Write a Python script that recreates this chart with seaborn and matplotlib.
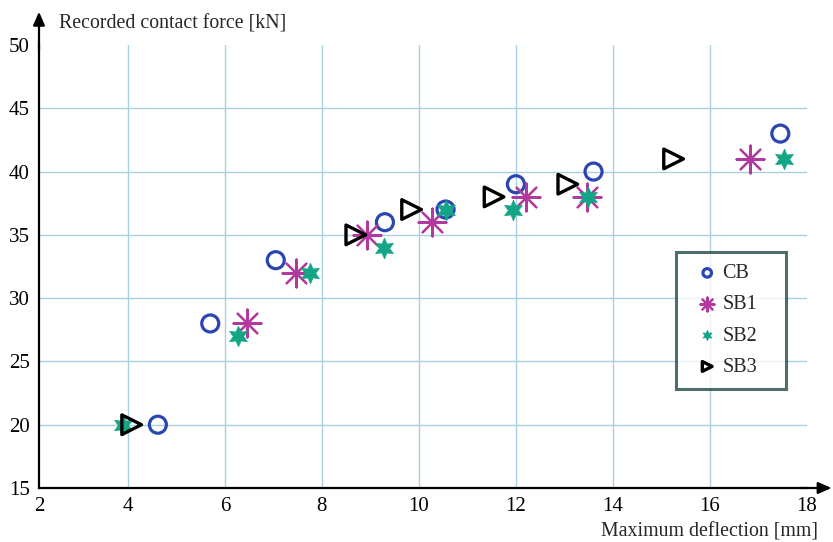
import matplotlib
matplotlib.use("Agg")
import matplotlib.pyplot as plt
import seaborn as sns

# ---- data ----
cb_x = [4.62, 5.70, 7.05, 9.30, 10.55, 12.00, 13.60, 17.45]
cb_y = [20, 28, 33, 36, 37, 39, 40, 43]

sb1_x = [6.45, 7.47, 8.93, 10.27, 12.20, 13.47, 16.82]
sb1_y = [28, 32, 35, 36, 38, 38, 41]

sb2_x = [3.90, 6.28, 7.75, 9.28, 10.55, 11.95, 13.48, 17.52]
sb2_y = [20, 27, 32, 34, 37, 37, 38, 41]

sb3_x = [4.08, 8.70, 9.85, 11.55, 13.07, 15.25]
sb3_y = [20, 35, 37, 38, 39, 41]

x_tick_labels = ["2", "4", "6", "8", "10", "12", "14", "16", "18"]
y_ticks = [15, 20, 25, 30, 35, 40, 45, 50]

sns.set_style("white")
plt.rcParams["font.family"] = ["Liberation Serif", "DejaVu Serif"]

fig = plt.figure(figsize=(8.33, 5.42), dpi=100)
W, H = 833, 542
ax = fig.add_axes([39 / W, 1 - 488 / H, (807 - 39) / W, (488 - 45) / H])

x0 = 2.17
ax.set_xlim(x0, 18)
ax.set_ylim(15, 50)
ax.set_xticks([x0, 4, 6, 8, 10, 12, 14, 16, 18])
ax.set_xticklabels(x_tick_labels)
ax.set_yticks(y_ticks)
ax.set_yticklabels([str(v) for v in y_ticks])

grid_col = "#a9d0e2"
ax.grid(True, color=grid_col, linewidth=1.0)
ax.set_axisbelow(True)
ax.xaxis.get_gridlines()[0].set_visible(False)
ax.xaxis.get_gridlines()[-1].set_visible(False)
ax.yaxis.get_gridlines()[-1].set_visible(False)
ax.yaxis.get_gridlines()[0].set_visible(False)

for s in ["top", "right"]:
    ax.spines[s].set_visible(False)
for s in ["left", "bottom"]:
    ax.spines[s].set_color("black")
    ax.spines[s].set_linewidth(1.6)

ax.tick_params(axis="both", direction="inout", length=5, width=1.4,
               labelsize=15, colors="black", pad=4)

c_cb = "#2b45b2"
c_sb1 = "#b23a9e"
c_sb2 = "#13a585"
c_sb3 = "black"

sns.scatterplot(x=cb_x, y=cb_y, ax=ax, marker="o", s=150, facecolor="none",
                edgecolor=c_cb, linewidth=2.3, label="CB", zorder=3)
sns.scatterplot(x=sb1_x, y=sb1_y, ax=ax, marker=(8, 2, 0), s=400,
                color=c_sb1, linewidth=1.6, label="SB1", zorder=3)
sns.scatterplot(x=sb2_x, y=sb2_y, ax=ax, marker=(6, 1, 0), s=220,
                color=c_sb2, edgecolor=c_sb2, linewidth=0.5, label="SB2", zorder=4)
sns.scatterplot(x=sb3_x, y=sb3_y, ax=ax, marker=">", s=200, facecolor="none",
                edgecolor=c_sb3, linewidth=2.4, label="SB3", zorder=4)

ax.set_xlabel("")
ax.set_ylabel("")

lx0 = (676 - 39) / 768
ly1 = (488 - 252) / 443
lw_ = (786 - 676) / 768
lh_ = (387 - 252) / 443
leg = ax.legend(loc="upper left", bbox_to_anchor=(lx0, ly1 - lh_, lw_, lh_),
                mode="expand", borderaxespad=0.0,
                fontsize=14.5, markerscale=0.5, frameon=True, fancybox=False,
                handletextpad=-0.2, labelspacing=0.6, borderpad=0.6,
                handlelength=1.9)
leg.get_frame().set_edgecolor("#224848")
leg.get_frame().set_linewidth(2.2)

# axis arrows
ax.annotate("", xy=(1.032, 0), xytext=(0.99, 0), xycoords="axes fraction",
            arrowprops=dict(arrowstyle="-|>,head_length=0.8,head_width=0.35",
                            color="black", lw=1.6, shrinkA=0, shrinkB=0),
            annotation_clip=False)
ax.annotate("", xy=(0, 1.075), xytext=(0, 0.99), xycoords="axes fraction",
            arrowprops=dict(arrowstyle="-|>,head_length=0.8,head_width=0.35",
                            color="black", lw=1.6, shrinkA=0, shrinkB=0),
            annotation_clip=False)

fig.text(59 / W, 1 - 28 / H, "Recorded contact force [kN]", fontsize=14.3,
         ha="left", va="baseline")
fig.text(818 / W, 1 - 537 / H, "Maximum deflection [mm]", fontsize=14.3,
         ha="right", va="baseline")

fig.savefig("out.png", dpi=100)
